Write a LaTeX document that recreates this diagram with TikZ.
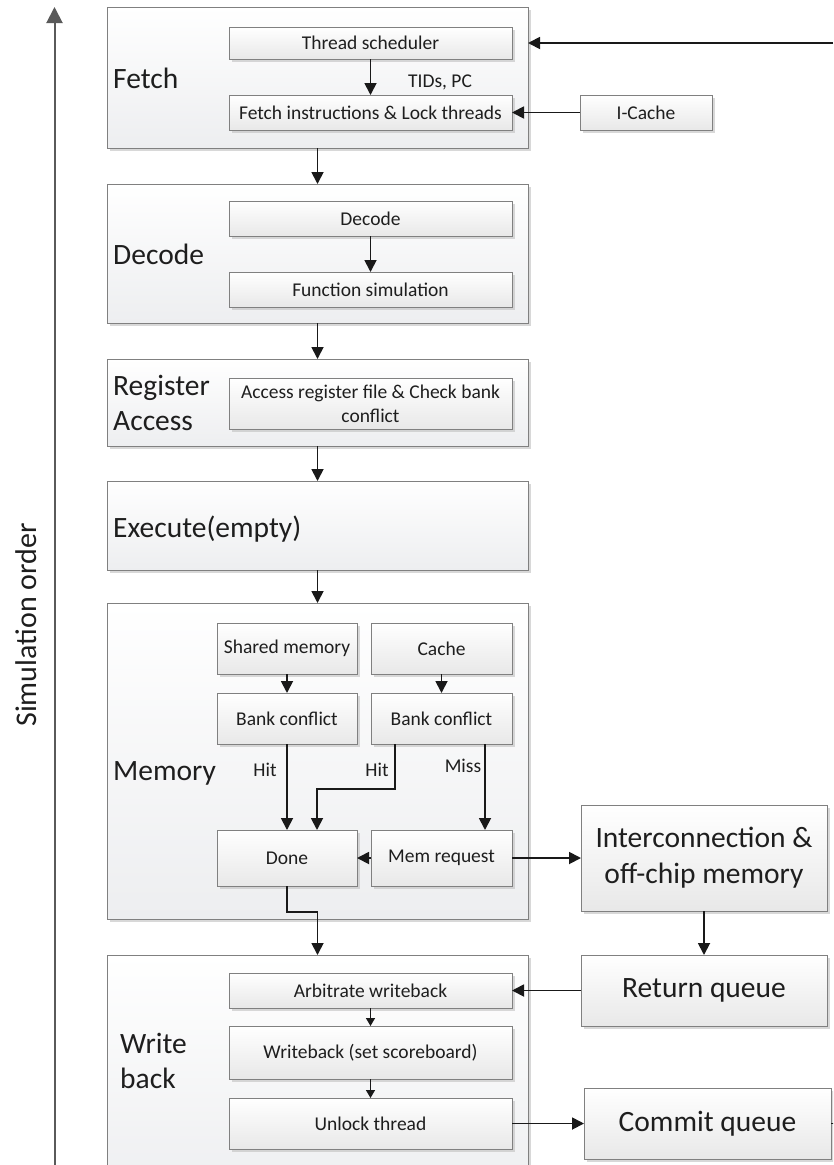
\documentclass[tikz,border=0pt]{standalone}
\usepackage{fontspec}
\setmainfont{Carlito}
\usetikzlibrary{arrows.meta,shadows,calc}
\definecolor{bordergray}{RGB}{128,128,128}
\definecolor{stagebot}{RGB}{237,238,240}
\definecolor{innerbot}{RGB}{232,232,232}
\definecolor{txt}{RGB}{30,30,30}
\definecolor{arrgray}{RGB}{90,90,90}
\tikzset{
  x=1pt, y=-1pt,
  shad/.style={drop shadow={shadow xshift=3pt, shadow yshift=-3pt, fill=black!25, opacity=0.6}},
  stage/.style={draw=bordergray, line width=0.9pt, top color=white, bottom color=stagebot, shad, inner sep=0pt, outer sep=0pt},
  inbox/.style={draw=bordergray, line width=0.9pt, top color=white, bottom color=innerbot, shad, inner sep=0pt, outer sep=0pt, text=txt, font=\fontsize{19.5}{24}\selectfont, align=center},
  bigbox/.style={inbox, font=\fontsize{29.5}{36}\selectfont},
  biglbl/.style={text=txt, font=\fontsize{29.5}{35}\selectfont, inner sep=0pt, align=left, anchor=base west},
  smalllbl/.style={text=txt, font=\fontsize{19.5}{24}\selectfont, inner sep=0pt},
  arr/.style={draw=black!90, line width=1.8pt, -{Triangle[length=12pt,width=12pt]}},
  sarr/.style={draw=black!90, line width=1.5pt, -{Triangle[length=8pt,width=9pt]}},
  plain/.style={draw=black!90, line width=1.8pt},
}
\begin{document}
\begin{tikzpicture}
\clip (0,0) rectangle (833,1165);
\fill[white] (0,0) rectangle (833,1165);

% stage boxes
\node[stage, minimum width=421pt, minimum height=141pt] (fetch) at (317.5,77.5) {};
\node[stage, minimum width=421pt, minimum height=139pt] (decode) at (317.5,253.5) {};
\node[stage, minimum width=421pt, minimum height=87pt] (regacc) at (317.5,402.5) {};
\node[stage, minimum width=421pt, minimum height=89pt] (exec) at (317.5,525.5) {};
\node[stage, minimum width=421pt, minimum height=316pt] (mem) at (317.5,761) {};
\node[stage, minimum width=421pt, minimum height=245pt] (wb) at (317.5,1077.5) {};

% stage labels (base = baseline of last line)
\node[biglbl] (lfetch) at (113,88) {Fetch};
\node[biglbl] (ldecode) at (113,264) {Decode};
\node[biglbl] (lreg) at (113,430) {Register\\Access};
\node[biglbl] (lexec) at (113,537.5) {Execute(empty)};
\node[biglbl] (lmem) at (113,780) {Memory};
\node[biglbl] (lwb) at (120,1088) {Write\\back};

% fetch internals
\node[inbox, minimum width=283pt, minimum height=32pt] (ts) at (370.5,43) {Thread scheduler};
\node[inbox, minimum width=283pt, minimum height=35pt] (fi) at (370.5,112.5) {Fetch instructions \& Lock threads};
\node[inbox, minimum width=132pt, minimum height=35pt] (icache) at (646,112.5) {I-Cache};
\node[smalllbl] (tids) at (440,82) {TIDs, PC};

% decode internals
\node[inbox, minimum width=283pt, minimum height=35pt] (dec) at (370.5,218.5) {Decode};
\node[inbox, minimum width=283pt, minimum height=35pt] (fsim) at (370.5,289.5) {Function simulation};

% register access
\node[inbox, minimum width=283pt, minimum height=51pt] (acc) at (370.5,403.5) {Access register file \& Check bank\\conflict};

% memory internals
\node[inbox, minimum width=140pt, minimum height=51pt] (sm) at (287,648.5) {Shared memory};
\node[inbox, minimum width=141pt, minimum height=51pt] (cache) at (441.5,648.5) {Cache};
\node[inbox, minimum width=140pt, minimum height=51pt] (bl) at (287,718.5) {Bank conflict};
\node[inbox, minimum width=141pt, minimum height=51pt] (br) at (441.5,718.5) {Bank conflict};
\node[inbox, minimum width=140pt, minimum height=56pt] (done) at (287,858) {Done};
\node[inbox, minimum width=141pt, minimum height=56pt] (mreq) at (441.5,858) {Mem request};
\node[smalllbl] (hitl) at (265,770) {Hit};
\node[smalllbl] (hitr) at (377,770) {Hit};
\node[smalllbl] (miss) at (463,766) {Miss};

% right side boxes
\node[bigbox, minimum width=246pt, minimum height=106pt] (inter) at (704,858) {Interconnection \&\\off-chip memory};
\node[bigbox, minimum width=246pt, minimum height=71pt] (rq) at (704,990.5) {Return queue};
\node[bigbox, minimum width=247pt, minimum height=71pt] (cq) at (707.5,1123.5) {Commit queue};

% writeback internals
\node[inbox, minimum width=283pt, minimum height=35pt] (arb) at (370.5,990.5) {Arbitrate writeback};
\node[inbox, minimum width=283pt, minimum height=53pt] (wbs) at (370.5,1052.5) {Writeback (set scoreboard)};
\node[inbox, minimum width=283pt, minimum height=51pt] (unl) at (370.5,1123.5) {Unlock thread};

% simulation order axis
\coordinate (simbot) at (54.5,1170);
\coordinate (simtop) at (54.5,7);
\draw[draw=arrgray, line width=2pt, -{Triangle[length=16pt,width=16pt]}] (simbot) -- (simtop);
\node[rotate=90, text=txt, font=\fontsize{30}{36}\selectfont, inner sep=0pt] (simlbl) at (26,625) {Simulation order};

% connectors
\coordinate (topin) at (833,43);
\coordinate (cqout) at (840,1123.5);
\draw[arr] (topin) -- (topin -| fetch.east);
\draw[arr] (ts.south) -- (fi.north);
\draw[arr] (icache.west) -- (fi.east);
\draw[arr] (fetch.south) -- (decode.north);
\draw[arr] (dec.south) -- (fsim.north);
\draw[arr] (decode.south) -- (regacc.north);
\draw[arr] (regacc.south) -- (exec.north);
\draw[arr] (exec.south) -- (mem.north);
\draw[arr] (sm.south) -- (bl.north);
\draw[arr] (cache.south) -- (br.north);
\draw[arr] (bl.south) -- (done.north);
\coordinate (hitbend) at (317,789);
\draw[arr] ($(br.south west)+(24,0)$) |- (hitbend) -- (hitbend |- done.north);
\draw[arr] ($(br.south east)+(-27,0)$) -- ($(mreq.north east)+(-27,0)$);
\draw[arr] (mreq.west) -- (done.east);
\draw[arr] (mreq.east) -- (mreq.east -| inter.west);
\draw[arr] (done.south) -- ++(0,26) -| (wb.north);
\draw[arr] (inter.south) -- (rq.north);
\draw[arr] (rq.west) -- (rq.west -| arb.east);
\draw[sarr] (arb.south) -- (wbs.north);
\draw[sarr] (wbs.south) -- (unl.north);
\draw[arr] (unl.east) -- (cq.west);
\draw[plain] (cq.east) -- (cqout);
\end{tikzpicture}
\end{document}
